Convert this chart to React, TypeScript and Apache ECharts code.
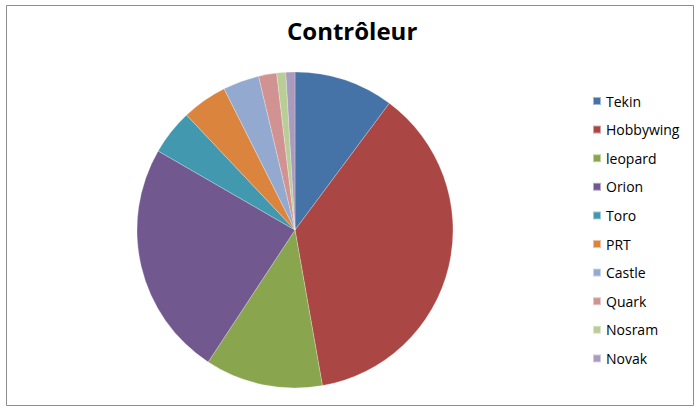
import React, { useEffect, useRef } from "react";
import * as echarts from "echarts";

const categories = ["Tekin", "Hobbywing", "leopard", "Orion", "Toro", "PRT", "Castle", "Quark", "Nosram", "Novak"];
const values = [11, 40, 13, 26, 5, 5, 4, 2, 1, 1];
const colors = ["#4572A7", "#AA4643", "#89A54E", "#71588F", "#4198AF", "#DB843D", "#93A9CF", "#D19392", "#B9CD96", "#A99BBD"];
const titleText = "Contrôleur";

export default function App() {
  const ref = useRef<HTMLDivElement>(null);
  useEffect(() => {
    document.body.style.margin = "0";
    const chart = echarts.init(ref.current!, null, { renderer: "svg" });
    chart.setOption({
      animation: false,
      backgroundColor: "#fff",
      color: colors,
      title: {
        text: titleText,
        left: 287,
        top: 18,
        padding: 0,
        textStyle: { fontFamily: "Open Sans", fontWeight: "bold", fontSize: 24, color: "#000" },
      },
      legend: {
        orient: "vertical",
        left: 592,
        top: 94,
        padding: 0,
        itemWidth: 8,
        itemHeight: 8,
        itemGap: 14.6,
        icon: "rect",
        textStyle: { fontFamily: "Open Sans", fontSize: 14, color: "#000", lineHeight: 14 },
        data: categories,
      },
      graphic: [
        {
          type: "rect",
          shape: { x: 6.5, y: 5.5, width: 687, height: 400 },
          style: { fill: "none", stroke: "#8c8c8c", lineWidth: 1 },
          silent: true,
        },
      ],
      series: [
        {
          type: "pie",
          center: [295, 230],
          radius: 158,
          startAngle: 90,
          clockwise: true,
          label: { show: false },
          labelLine: { show: false },
          itemStyle: { borderColor: "rgba(255,255,255,0.5)", borderWidth: 0.5 },
          emphasis: { disabled: true },
          data: categories.map((c, i) => ({ name: c, value: values[i] })),
        },
      ],
    });
    return () => chart.dispose();
  }, []);
  return <div ref={ref} style={{ width: 700, height: 413 }} />;
}
